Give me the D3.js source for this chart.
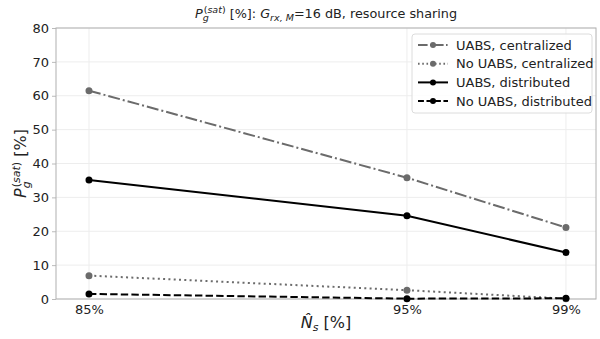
<!DOCTYPE html>
<html>
<head>
<meta charset="utf-8">
<script src="https://cdn.jsdelivr.net/npm/d3@7"></script>
<style>
  body { margin: 0; background: #fff; }
  svg { font-family: "DejaVu Sans", sans-serif; }
</style>
</head>
<body>
<svg width="600" height="339"></svg>
<script>
// x categories and where they sit on the (uneven) x axis
const categories = ["85%", "95%", "99%"];
const catSlot = [0, 2, 3];
const yTicks = [0, 10, 20, 30, 40, 50, 60, 70, 80];

const seriesNames = ["UABS, centralized", "No UABS, centralized", "UABS, distributed", "No UABS, distributed"];
const uabsCentralized = [61.5, 35.8, 21.1];
const noUabsCentralized = [6.9, 2.6, 0.1];
const uabsDistributed = [35.1, 24.6, 13.7];
const noUabsDistributed = [1.5, 0.1, 0.2];

const seriesValues = [uabsCentralized, noUabsCentralized, uabsDistributed, noUabsDistributed];
const seriesColor = ["#6b6b6b", "#6b6b6b", "#000000", "#000000"];
const seriesDash = ["12,3,2,3", "2,3.3", null, "7.4,3.2"];

const margin = { top: 28, right: 4, bottom: 40, left: 56 };
const width = 600 - margin.left - margin.right;
const height = 339 - margin.top - margin.bottom;

const svg = d3.select("svg");

const chart = svg.append("g")
  .attr("transform", `translate(${margin.left}, ${margin.top})`);

const x = d3.scaleLinear()
  .domain([-0.2075, 3.189])
  .range([0, width]);

const y = d3.scaleLinear()
  .domain([0, 80])
  .range([height, 0]);

// grid
chart.append("g")
  .selectAll("line")
  .data(yTicks)
  .enter()
  .append("line")
  .attr("x1", 0)
  .attr("x2", width)
  .attr("y1", d => y(d))
  .attr("y2", d => y(d))
  .attr("stroke", "#ededed")
  .attr("stroke-width", 1);
chart.append("g")
  .selectAll("line")
  .data(catSlot)
  .enter()
  .append("line")
  .attr("x1", d => x(d))
  .attr("x2", d => x(d))
  .attr("y1", 0)
  .attr("y2", height)
  .attr("stroke", "#ededed")
  .attr("stroke-width", 1);

// axes
const xAxis = d3.axisBottom(x)
  .tickValues(catSlot)
  .tickFormat((d, i) => categories[i])
  .tickSize(0)
  .tickPadding(6);
const yAxis = d3.axisLeft(y)
  .tickValues(yTicks)
  .tickSize(4)
  .tickPadding(3);

const gx = chart.append("g")
  .attr("transform", `translate(0, ${height})`)
  .call(xAxis);
const gy = chart.append("g")
  .call(yAxis);

[gx, gy].forEach(g => {
  g.select(".domain").remove();
  g.selectAll("text").attr("font-size", 13).attr("fill", "#222")
    .attr("font-family", "DejaVu Sans, sans-serif");
  g.selectAll("line").attr("stroke", "#bbb");
});

// frame
chart.append("rect")
  .attr("width", width)
  .attr("height", height)
  .attr("fill", "none")
  .attr("stroke", "#b0b0b0")
  .attr("stroke-width", 1);

// lines
const line = d3.line()
  .x((d, i) => x(catSlot[i]))
  .y(d => y(d));

seriesValues.forEach((vals, s) => {
  chart.append("path")
    .datum(vals)
    .attr("fill", "none")
    .attr("stroke", seriesColor[s])
    .attr("stroke-width", 2)
    .attr("stroke-dasharray", seriesDash[s])
    .attr("d", line);
  chart.selectAll(".pt" + s)
    .data(vals)
    .enter()
    .append("circle")
    .attr("class", "pt" + s)
    .attr("cx", (d, i) => x(catSlot[i]))
    .attr("cy", d => y(d))
    .attr("r", 3.5)
    .attr("fill", seriesColor[s]);
});

// title
const title = svg.append("text")
  .attr("x", 326)
  .attr("y", 18)
  .attr("text-anchor", "middle")
  .attr("font-size", 12.8)
  .attr("fill", "#222");
title.append("tspan").attr("font-style", "italic").text("P");
title.append("tspan").attr("font-size", 9.5).attr("font-style", "italic").attr("dy", 3).text("g");
title.append("tspan").attr("font-size", 9.5).attr("dx", -5).attr("dy", -8).text("(");
title.append("tspan").attr("font-size", 9.5).attr("font-style", "italic").text("sat");
title.append("tspan").attr("font-size", 9.5).text(")");
title.append("tspan").attr("dy", 5).text(" [%]: ");
title.append("tspan").attr("font-style", "italic").text("G");
title.append("tspan").attr("font-size", 9.5).attr("font-style", "italic").attr("dy", 3).text("rx, M");
title.append("tspan").attr("dy", -3).text("=16 dB, resource sharing");

// y label
const yl = svg.append("text")
  .attr("transform", `translate(26, ${margin.top + height / 2}) rotate(-90)`)
  .attr("text-anchor", "middle")
  .attr("font-size", 16)
  .attr("fill", "#222");
yl.append("tspan").attr("font-style", "italic").text("P");
yl.append("tspan").attr("font-size", 11).attr("font-style", "italic").attr("dy", 4).text("g");
yl.append("tspan").attr("font-size", 11).attr("dx", -6).attr("dy", -10).text("(");
yl.append("tspan").attr("font-size", 11).attr("font-style", "italic").text("sat");
yl.append("tspan").attr("font-size", 11).text(")");
yl.append("tspan").attr("dy", 6).text(" [%]");

// x label
const xl = svg.append("text")
  .attr("x", 326)
  .attr("y", 328)
  .attr("text-anchor", "middle")
  .attr("font-size", 16)
  .attr("fill", "#222");
xl.append("tspan").attr("font-style", "italic").text("N\u0302");
xl.append("tspan").attr("font-size", 11).attr("font-style", "italic").attr("dy", 3).text("s");
xl.append("tspan").attr("dy", -3).text(" [%]");

// legend
const legend = svg.append("g").attr("transform", "translate(412, 34)");
legend.append("rect")
  .attr("width", 180)
  .attr("height", 79)
  .attr("rx", 3)
  .attr("fill", "#fff")
  .attr("fill-opacity", 0.85)
  .attr("stroke", "#dcdcdc");
seriesNames.forEach((name, s) => {
  const row = legend.append("g").attr("transform", `translate(0, ${11 + s * 18.7})`);
  row.append("line")
    .attr("x1", 6).attr("x2", 36)
    .attr("stroke", seriesColor[s])
    .attr("stroke-width", 2)
    .attr("stroke-dasharray", seriesDash[s] ? seriesDash[s].split(",").map(v => v * 0.8).join(",") : null);
  row.append("circle").attr("cx", 21).attr("r", 3).attr("fill", seriesColor[s]);
  row.append("text")
    .attr("x", 44).attr("y", 4.5)
    .attr("font-size", 13)
    .attr("fill", "#222")
    .text(name);
});
</script>
</body>
</html>
